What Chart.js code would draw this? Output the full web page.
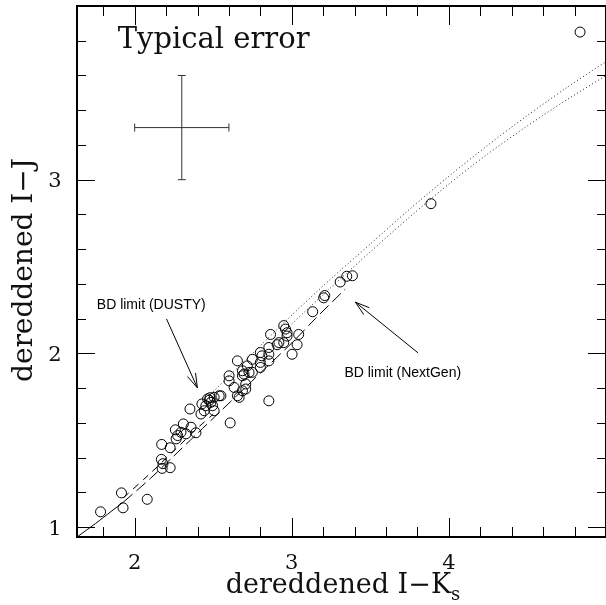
<html>
  <head>
    <script src="https://cdn.jsdelivr.net/npm/chart.js@4.4.1/dist/chart.umd.min.js"></script>
    <style>
      body { margin: 0; overflow: hidden; background: #fff; }
      #wrap { width: 606px; height: 605px; overflow: hidden; }
    </style>
  </head>
  <body>
    <div id="wrap"><canvas id="ccd" width="612" height="605"></canvas></div>
    <script>
      // observed stars: dereddened I-Ks vs I-J
      var starIK = [1.783, 1.916, 1.926, 2.080, 2.170, 2.180, 2.175, 2.226, 2.172, 2.226,
        2.259, 2.274, 2.264, 2.310, 2.327, 2.359, 2.390, 2.352, 2.422, 2.428,
        2.464, 2.485, 2.496, 2.453, 2.506, 2.538, 2.506, 2.608, 2.854, 2.601,
        2.633, 2.654, 2.707, 2.696, 2.728, 2.949, 2.970, 3.044, 2.865, 2.918,
        2.949, 3.002, 2.854, 2.800, 2.810, 2.854, 2.749, 2.654, 2.800, 2.854,
        2.717, 2.800, 2.686, 2.749, 2.601, 2.686, 2.707, 2.686, 2.665, 2.549,
        2.443, 3.350, 3.386, 3.308, 3.203, 3.210, 3.133, 2.960, 2.970, 3.034,
        2.907, 3.886, 4.835, 2.295, 2.475, 2.480];
      var starIJ = [1.088, 1.197, 1.111, 1.160, 1.390, 1.365, 1.338, 1.342, 1.476, 1.457,
        1.560, 1.527, 1.508, 1.594, 1.537, 1.575, 1.543, 1.680, 1.651, 1.709,
        1.738, 1.718, 1.699, 1.699, 1.747, 1.756, 1.670, 1.600, 1.727, 1.871,
        1.804, 1.756, 1.795, 1.881, 1.890, 2.160, 2.119, 2.109, 2.109, 2.062,
        2.062, 1.995, 2.034, 2.005, 1.986, 1.995, 1.966, 1.957, 1.948, 1.957,
        1.928, 1.919, 1.900, 1.891, 1.842, 1.871, 1.824, 1.785, 1.747, 1.756,
        1.670, 2.444, 2.447, 2.411, 2.320, 2.333, 2.240, 2.140, 2.100, 2.050,
        2.050, 2.862, 3.850, 1.546, 1.730, 1.745];

      // model tracks
      var solidIK = [1.633, 1.75, 1.85, 1.93];
      var solidIJ = [0.943, 1.02, 1.09, 1.145];
      var nextgenIK = [1.93, 2.10, 2.25, 2.40, 2.55, 2.70, 2.85, 3.00, 3.15, 3.34];
      var nextgenIJ = [1.145, 1.28, 1.41, 1.54, 1.67, 1.80, 1.93, 2.06, 2.20, 2.37];
      var dustyIK = [1.93, 2.10, 2.25, 2.40, 2.50];
      var dustyIJ = [1.17, 1.31, 1.44, 1.57, 1.65];
      var dotUpIK = [2.50, 2.75, 3.00, 3.25, 3.50, 3.75, 4.00, 4.25, 4.50, 4.75, 5.00];
      var dotUpIJ = [1.78, 2.00, 2.22, 2.43, 2.63, 2.83, 3.02, 3.20, 3.37, 3.53, 3.68];
      var dotLoIK = [3.00, 3.25, 3.50, 3.75, 4.00, 4.25, 4.50, 4.75, 5.00];
      var dotLoIJ = [2.17, 2.38, 2.585, 2.785, 2.975, 3.15, 3.31, 3.46, 3.60];

      // axes
      var xTicks = [1.8, 2.0, 2.2, 2.4, 2.6, 2.8, 3.0, 3.2, 3.4, 3.6, 3.8, 4.0, 4.2, 4.4, 4.6, 4.8];
      var yTicks = [1.0, 1.2, 1.4, 1.6, 1.8, 2.0, 2.2, 2.4, 2.6, 2.8, 3.0, 3.2, 3.4, 3.6, 3.8];
      var xLabels = [2, 3, 4];
      var yLabels = [1, 2, 3];

      // typical error bar
      var errCenter = [2.3, 3.3];
      var errSize = [0.3, 0.3];

      function pts(xs, ys) {
        return xs.map(function (x, i) { return { x: x, y: ys[i] }; });
      }

      function lineSet(xs, ys, dash, color) {
        return {
          type: "line",
          data: pts(xs, ys),
          borderColor: color || "#000",
          borderWidth: 1,
          borderDash: dash,
          pointRadius: 0,
          tension: 0.3,
          fill: false,
        };
      }

      var serif = "'DejaVu Serif', serif";
      var sans = "'Liberation Sans', Arial, sans-serif";

      function arrow(ctx, x0, y0, x1, y1) {
        ctx.beginPath();
        ctx.moveTo(x0, y0);
        ctx.lineTo(x1, y1);
        var a = Math.atan2(y1 - y0, x1 - x0);
        var L = 15, w = 0.3;
        ctx.moveTo(x1 - L * Math.cos(a - w), y1 - L * Math.sin(a - w));
        ctx.lineTo(x1, y1);
        ctx.lineTo(x1 - L * Math.cos(a + w), y1 - L * Math.sin(a + w));
        ctx.stroke();
      }

      var decor = {
        id: "decor",
        afterDatasetsDraw: function (chart) {
          var ctx = chart.ctx;
          var xs = chart.scales.x, ys = chart.scales.y;
          var a = chart.chartArea;
          ctx.save();
          ctx.strokeStyle = "#000";
          ctx.fillStyle = "#111";

          // frame
          ctx.lineWidth = 2;
          ctx.strokeRect(a.left, a.top, a.right - a.left, a.bottom - a.top);

          // ticks inward on all sides
          ctx.lineWidth = 1;
          ctx.beginPath();
          xTicks.forEach(function (t) {
            var p = Math.round(xs.getPixelForValue(t)) + 0.5;
            var len = xLabels.indexOf(Math.round(t * 10) / 10) >= 0 ? 19 : 10;
            ctx.moveTo(p, a.bottom); ctx.lineTo(p, a.bottom - len);
            ctx.moveTo(p, a.top); ctx.lineTo(p, a.top + len);
          });
          yTicks.forEach(function (t) {
            var p = Math.round(ys.getPixelForValue(t)) + 0.5;
            var len = yLabels.indexOf(Math.round(t * 10) / 10) >= 0 ? 18 : 9;
            ctx.moveTo(a.left, p); ctx.lineTo(a.left + len, p);
            ctx.moveTo(a.right, p); ctx.lineTo(a.right - len, p);
          });
          ctx.stroke();

          // tick labels
          ctx.font = "21px " + serif;
          ctx.textAlign = "center";
          ctx.textBaseline = "middle";
          xLabels.forEach(function (v) {
            ctx.fillText(String(v), xs.getPixelForValue(v), a.bottom + 27);
          });
          yLabels.forEach(function (v) {
            ctx.fillText(String(v), a.left - 22, ys.getPixelForValue(v) + 2);
          });

          // axis titles
          ctx.font = "27px " + serif;
          ctx.textBaseline = "alphabetic";
          var main = "dereddened I\u2212K";
          var wMain = ctx.measureText(main).width;
          ctx.font = "18px " + serif;
          var wSub = ctx.measureText("s").width;
          var x0 = 343 - (wMain + wSub) / 2;
          ctx.textAlign = "left";
          ctx.font = "27px " + serif;
          ctx.fillText(main, x0, 593);
          ctx.font = "18px " + serif;
          ctx.fillText("s", x0 + wMain, 600);

          ctx.save();
          ctx.translate(32, 270);
          ctx.rotate(-Math.PI / 2);
          ctx.font = "28px " + serif;
          ctx.textAlign = "center";
          ctx.fillText("dereddened I\u2212J", 0, 0);
          ctx.restore();

          // typical error
          ctx.font = "29px " + serif;
          ctx.textAlign = "left";
          ctx.fillText("Typical error", xs.getPixelForValue(1.892), ys.getPixelForValue(3.756));
          var cx = xs.getPixelForValue(errCenter[0]), cy = ys.getPixelForValue(errCenter[1]);
          var xl = xs.getPixelForValue(errCenter[0] - errSize[0]);
          var xr = xs.getPixelForValue(errCenter[0] + errSize[0]);
          var yt = ys.getPixelForValue(errCenter[1] + errSize[1]);
          var yb = ys.getPixelForValue(errCenter[1] - errSize[1]);
          ctx.strokeStyle = "#333";
          ctx.beginPath();
          ctx.moveTo(xl, cy); ctx.lineTo(xr, cy);
          ctx.moveTo(xl, cy - 4); ctx.lineTo(xl, cy + 4);
          ctx.moveTo(xr, cy - 4); ctx.lineTo(xr, cy + 4);
          ctx.moveTo(cx, yt); ctx.lineTo(cx, yb);
          ctx.moveTo(cx - 4, yt); ctx.lineTo(cx + 4, yt);
          ctx.moveTo(cx - 4, yb); ctx.lineTo(cx + 4, yb);
          ctx.stroke();

          // BD limit notes
          ctx.strokeStyle = "#000";
          ctx.fillStyle = "#000";
          ctx.font = "14px " + sans;
          ctx.fillText("BD limit (DUSTY)", xs.getPixelForValue(1.759), ys.getPixelForValue(2.255));
          ctx.fillText("BD limit (NextGen)", xs.getPixelForValue(3.335), ys.getPixelForValue(1.865));
          arrow(ctx, xs.getPixelForValue(2.203), ys.getPixelForValue(2.198),
            xs.getPixelForValue(2.399), ys.getPixelForValue(1.802));
          arrow(ctx, xs.getPixelForValue(3.804), ys.getPixelForValue(2.003),
            xs.getPixelForValue(3.405), ys.getPixelForValue(2.295));

          ctx.restore();
        },
      };

      var chart = new Chart(document.getElementById("ccd"), {
        type: "scatter",
        data: {
          datasets: [
            {
              data: pts(starIK, starIJ),
              pointRadius: 5,
              pointBorderWidth: 1,
              pointBorderColor: "#000",
              pointBackgroundColor: "rgba(0,0,0,0)",
            },
            lineSet(solidIK, solidIJ, []),
            lineSet(nextgenIK, nextgenIJ, [12, 5]),
            lineSet(dustyIK, dustyIJ, [7, 6]),
            lineSet(dotUpIK, dotUpIJ, [1, 2.5], "#222"),
            lineSet(dotLoIK, dotLoIJ, [1, 2.5], "#222"),
          ],
        },
        options: {
          responsive: false,
          animation: false,
          devicePixelRatio: 1,
          layout: { padding: { left: 77, top: 4, right: 3, bottom: 68 } },
          plugins: { legend: { display: false }, tooltip: { enabled: false } },
          scales: {
            x: { type: "linear", min: 1.633, max: 5.0, display: false },
            y: { type: "linear", min: 0.943, max: 4.0, display: false },
          },
        },
        plugins: [decor],
      });
    </script>
  </body>
</html>
